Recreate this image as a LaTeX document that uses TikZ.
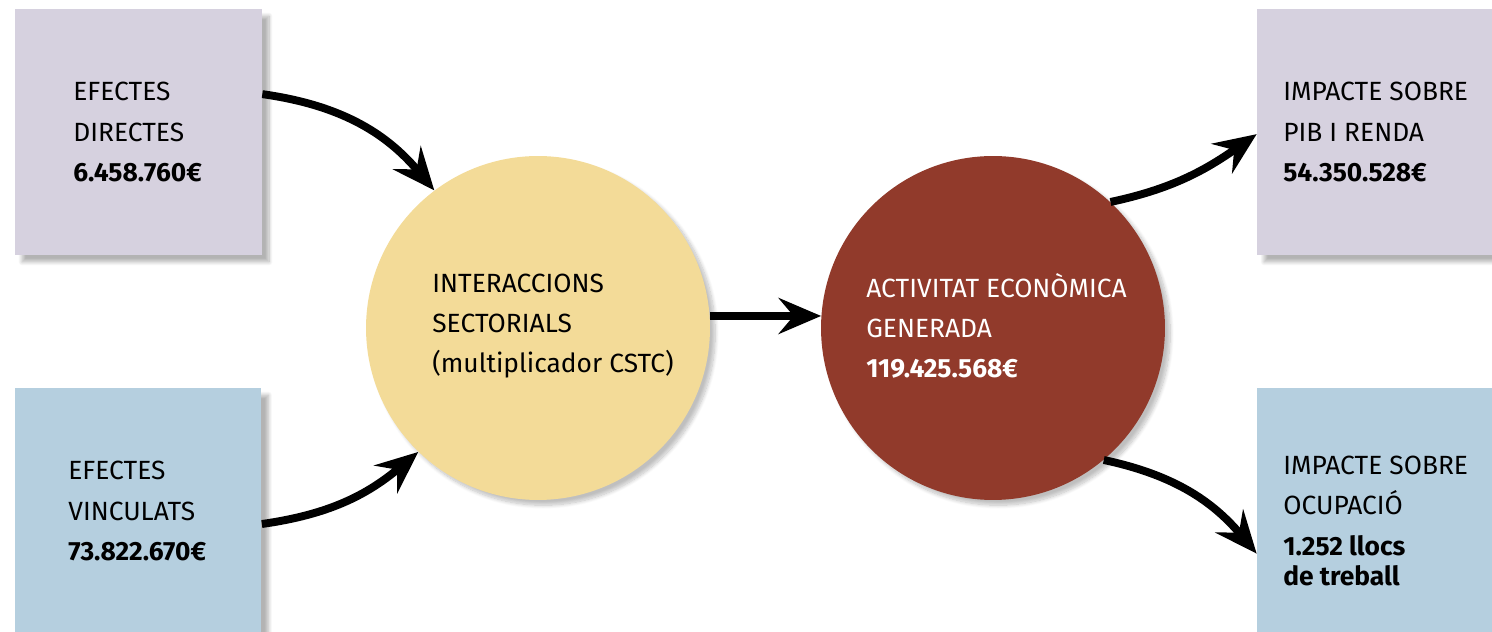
\documentclass[tikz,border=0pt]{standalone}
\usepackage{fontspec}
\setmainfont{Fira Sans}
\usepackage{xcolor}
\usetikzlibrary{positioning,arrows.meta,shadows.blur}
\definecolor{lila}{RGB}{214,209,223}
\definecolor{cel}{RGB}{181,207,223}
\definecolor{groc}{RGB}{243,219,152}
\definecolor{grana}{RGB}{145,58,43}

\tikzset{
  box/.style={rectangle, minimum width=4.94cm, minimum height=4.92cm, inner sep=0pt,
    blur shadow={shadow xshift=4pt, shadow yshift=-4pt, shadow blur steps=10, shadow opacity=30}},
  bol/.style={circle, minimum size=6.88cm, inner sep=0pt,
    blur shadow={shadow xshift=3pt, shadow yshift=-3pt, shadow blur steps=10, shadow opacity=25}},
  txt/.style={align=left, anchor=west, inner sep=0pt, font=\fontsize{15}{22.8}\selectfont},
  fl/.style={line width=4.5pt, -{Stealth[length=0.85cm, width=0.72cm, inset=0.3cm]}}
}

\begin{document}
\begin{tikzpicture}[x=0.02cm,y=0.02cm]
  \useasboundingbox (0,0) rectangle (1492,632);
  \clip (0,0) rectangle (1492,632);
  % boxes
  \node[box, fill=lila] at(138.5,500)(dir){};
  \node[box, fill=cel] at(138,121)(vin){};
  \node[box, fill=lila] at(1380.5,500)(pib){};
  \node[box, fill=cel] at(1380.5,121)(ocu){};
  % circles
  \node[bol, fill=groc] at(538,304)(inter){};
  \node[bol, fill=grana] at(993,304)(act){};
  % texts
  \node[txt] at(73,500)(dirT){EFECTES\\DIRECTES\\\textbf{6.458.760€}};
  \node[txt] at(68,121)(vinT){EFECTES\\VINCULATS\\\textbf{73.822.670€}};
  \node[txt] at(432,306)(interT){INTERACCIONS\\SECTORIALS\\(multiplicador CSTC)};
  \node[txt, text=white] at(866,306)(actT){ACTIVITAT ECONÒMICA\\GENERADA\\\textbf{119.425.568€}};
  \node[txt] at(1283,500)(pibT){IMPACTE SOBRE\\PIB I RENDA\\\textbf{54.350.528€}};
  \node[txt] at(1283,111)(ocuT){IMPACTE SOBRE\\OCUPACIÓ\\\textbf{1.252 llocs}\\[-0.2cm]\textbf{de treball}};
  % arrows
  \draw[fl] (dir.17) to[out=-8,in=130] (inter.127);
  \draw[fl] (vin.-6) to[out=8,in=220] (inter.-134);
  \draw[fl] (inter.4) -- (act.176);
  \draw[fl] (act.47) to[out=12,in=215] (pib.181);
  \draw[fl] (act.-50) to[out=-12,in=130] (ocu.199);
\end{tikzpicture}
\end{document}
